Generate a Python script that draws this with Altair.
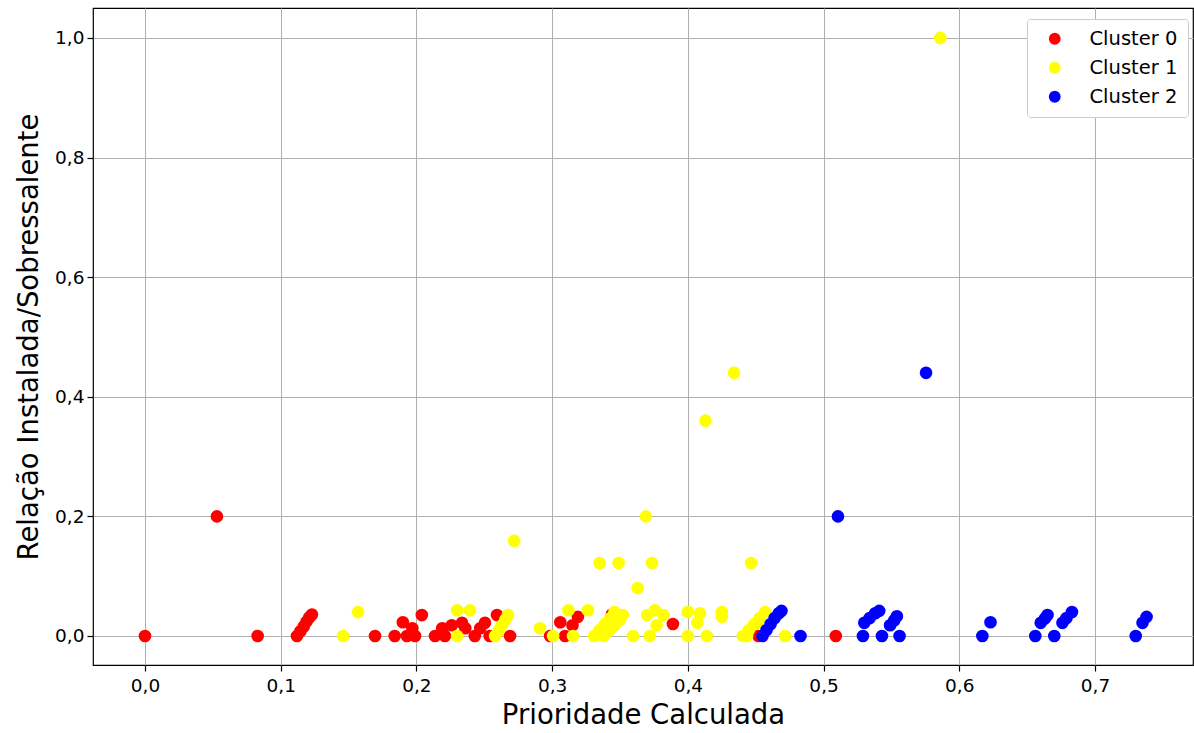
import altair as alt
import pandas as pd

# Cluster 0 (red)
c0_x = [0.000, 0.053, 0.083, 0.112, 0.1145, 0.117, 0.119, 0.121, 0.123, 0.1695,
        0.184, 0.190, 0.193, 0.197, 0.199, 0.204, 0.2137, 0.219, 0.221, 0.226,
        0.2336, 0.236, 0.243, 0.247, 0.2505, 0.254, 0.2594, 0.269,
        0.2985, 0.306, 0.3095, 0.315, 0.319, 0.344, 0.389, 0.452, 0.509]
c0_y = [0.000, 0.200, 0.000, 0.000, 0.008, 0.016, 0.024, 0.031, 0.036, 0.000,
        0.000, 0.023, 0.000, 0.013, 0.000, 0.035, 0.000, 0.013, 0.000, 0.018,
        0.022, 0.013, 0.000, 0.013, 0.022, 0.000, 0.035, 0.000,
        0.000, 0.023, 0.000, 0.018, 0.032, 0.036, 0.020, 0.000, 0.000]

# Cluster 1 (yellow)
c1_x = [0.146, 0.157, 0.230, 0.2395, 0.230, 0.258, 0.2605, 0.263, 0.2655, 0.2675,
        0.272, 0.291, 0.3007, 0.312, 0.3154, 0.3264,
        0.331, 0.335, 0.339, 0.343, 0.346, 0.338, 0.342, 0.346, 0.350, 0.352,
        0.335, 0.349, 0.3596, 0.363, 0.369, 0.370, 0.372, 0.3736, 0.3758, 0.377, 0.382,
        0.400, 0.400, 0.407, 0.409, 0.413, 0.414, 0.425, 0.425, 0.434,
        0.4406, 0.445, 0.449, 0.453, 0.457, 0.4436, 0.4466, 0.451, 0.4716, 0.586]
c1_y = [0.000, 0.040, 0.043, 0.043, 0.000, 0.000, 0.009, 0.018, 0.027, 0.035,
        0.159, 0.013, 0.000, 0.043, 0.000, 0.043,
        0.000, 0.010, 0.020, 0.030, 0.040, 0.000, 0.009, 0.018, 0.027, 0.035,
        0.122, 0.122, 0.000, 0.080, 0.200, 0.035, 0.000, 0.122, 0.043, 0.018, 0.035,
        0.040, 0.000, 0.022, 0.038, 0.360, 0.000, 0.040, 0.032, 0.440,
        0.000, 0.010, 0.020, 0.030, 0.040, 0.000, 0.122, 0.022, 0.000, 1.000]

# Cluster 2 (blue)
c2_x = [0.455, 0.458, 0.461, 0.464, 0.467, 0.469, 0.483, 0.5106,
        0.529, 0.530, 0.534, 0.538, 0.541, 0.543, 0.549, 0.552, 0.554, 0.556,
        0.5755, 0.617, 0.623, 0.656, 0.660, 0.663, 0.665, 0.670,
        0.676, 0.679, 0.683, 0.730, 0.735, 0.738]
c2_y = [0.000, 0.010, 0.020, 0.030, 0.038, 0.042, 0.000, 0.200,
        0.000, 0.022, 0.030, 0.038, 0.042, 0.000, 0.018, 0.026, 0.033, 0.000,
        0.440, 0.000, 0.023, 0.000, 0.022, 0.029, 0.035, 0.000,
        0.022, 0.030, 0.040, 0.000, 0.022, 0.032]

x_ticks = [0.0, 0.1, 0.2, 0.3, 0.4, 0.5, 0.6, 0.7]
y_ticks = [0.0, 0.2, 0.4, 0.6, 0.8, 1.0]
labels = ["Cluster 0", "Cluster 1", "Cluster 2"]
colors = ["#ff0000", "#ffff00", "#0000ff"]

rows = []
for i, (xs, ys) in enumerate([(c0_x, c0_y), (c1_x, c1_y), (c2_x, c2_y)]):
    for j, (a, b) in enumerate(zip(xs, ys)):
        rows.append({"x": a, "y": b, "cluster": labels[i], "ord": i * 1000 + j})
df = pd.DataFrame(rows)

lab_expr = "replace(format(datum.value, '.1f'), '.', ',')"

chart = alt.Chart(df).mark_circle(size=160, opacity=1).encode(
    x=alt.X("x:Q",
            scale=alt.Scale(domain=[-0.0383, 0.7722], nice=False, zero=False),
            axis=alt.Axis(values=x_ticks, labelExpr=lab_expr, title="Prioridade Calculada",
                          titleFontSize=27.5, titleFontWeight="normal", titlePadding=7,
                          labelFontSize=18.5, labelPadding=5)),
    y=alt.Y("y:Q",
            scale=alt.Scale(domain=[-0.0485, 1.050], nice=False, zero=False),
            axis=alt.Axis(values=y_ticks, labelExpr=lab_expr, title="Relação Instalada/Sobressalente",
                          titleFontSize=27.5, titleFontWeight="normal", titlePadding=11,
                          labelFontSize=18.5, labelPadding=3)),
    color=alt.Color("cluster:N",
                    scale=alt.Scale(domain=labels, range=colors),
                    legend=alt.Legend(title=None, orient="none", legendX=934, legendY=11,
                                      symbolType="circle", symbolSize=140, labelFontSize=19.5,
                                      labelOffset=25, rowPadding=8, padding=10,
                                      symbolOffset=8,
                                      strokeColor="#cccccc", fillColor="white",
                                      cornerRadius=3)),
    order=alt.Order("ord:Q"),
).properties(
    width=1100, height=657,
    autosize=alt.AutoSizeParams(type="none"),
    padding={"left": 93, "top": 8, "right": 1, "bottom": 68},
).configure(
    font="DejaVu Sans",
).configure_axis(
    grid=True, gridColor="#b0b0b0", gridWidth=1, gridOpacity=1,
    domain=False, tickColor="black", tickSize=6, tickWidth=1.2,
    labelColor="black", titleColor="black", labelFont="DejaVu Sans", titleFont="DejaVu Sans",
).configure_legend(
    labelFont="DejaVu Sans", labelColor="black",
).configure_view(
    stroke="black", strokeWidth=1.2,
)

chart.save("out.html", embed_options={"renderer": "svg", "actions": False})
